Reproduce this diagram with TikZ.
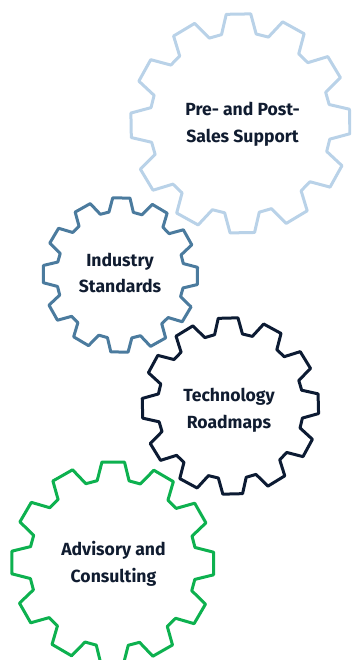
\documentclass[tikz,border=0pt]{standalone}
\usepackage{fontspec}
\setmainfont{Fira Sans}
\definecolor{gearsky}{HTML}{B9D2E8}
\definecolor{gearsteel}{HTML}{4B7B9E}
\definecolor{gearnavy}{HTML}{0C1B33}
\definecolor{geargreen}{HTML}{0DB14F}
\definecolor{labelink}{HTML}{101C30}
\tikzset{
  gearline/.style={line width=3pt,line join=round,fill=none},
  gearlabel/.style={text=labelink,align=center,font=\fontsize{17.6}{26.6}\selectfont\bfseries,inner sep=0pt}
}
% #1 colour, #2 cx, #3 cy, #4 radius, #5 rotation (clockwise on the page)
\newcommand{\gearshape}[5]{%
  \draw[gearline,draw=#1]
    ({#2+#4*sin(#5-6.4)},{#3-#4*cos(#5-6.4)})
    \foreach \k in {0,30,...,330}{
      -- ({#2+#4*sin(#5+\k-6.4)},{#3-#4*cos(#5+\k-6.4)})
      -- ({#2+#4*sin(#5+\k+6.4)},{#3-#4*cos(#5+\k+6.4)})
      -- ({#2+0.825*#4*sin(#5+\k+11)},{#3-0.825*#4*cos(#5+\k+11)})
      -- ({#2+0.825*#4*sin(#5+\k+19)},{#3-0.825*#4*cos(#5+\k+19)})
    } -- cycle;}
\begin{document}
\begin{tikzpicture}[x=1pt,y=-1pt]
\useasboundingbox (0,0) rectangle (351,660);
\clip (0,0) rectangle (351,660);
\gearshape{gearsky}{240.4}{123.4}{110}{-1}
\gearshape{gearsteel}{120.4}{275}{77.5}{0.7}
\gearshape{gearnavy}{230.4}{406}{88.5}{-1.5}
\gearshape{geargreen}{112.7}{563}{101.5}{0.3}
\node[gearlabel] (support) at (242.5,124.5) {Pre- and Post-\\Sales Support};
\node[gearlabel] (standards) at (120,273) {Industry\\Standards};
\node[gearlabel] (roadmaps) at (229,410) {Technology\\Roadmaps};
\node[gearlabel] (advisory) at (113.5,564) {Advisory and\\Consulting};
\end{tikzpicture}
\end{document}
